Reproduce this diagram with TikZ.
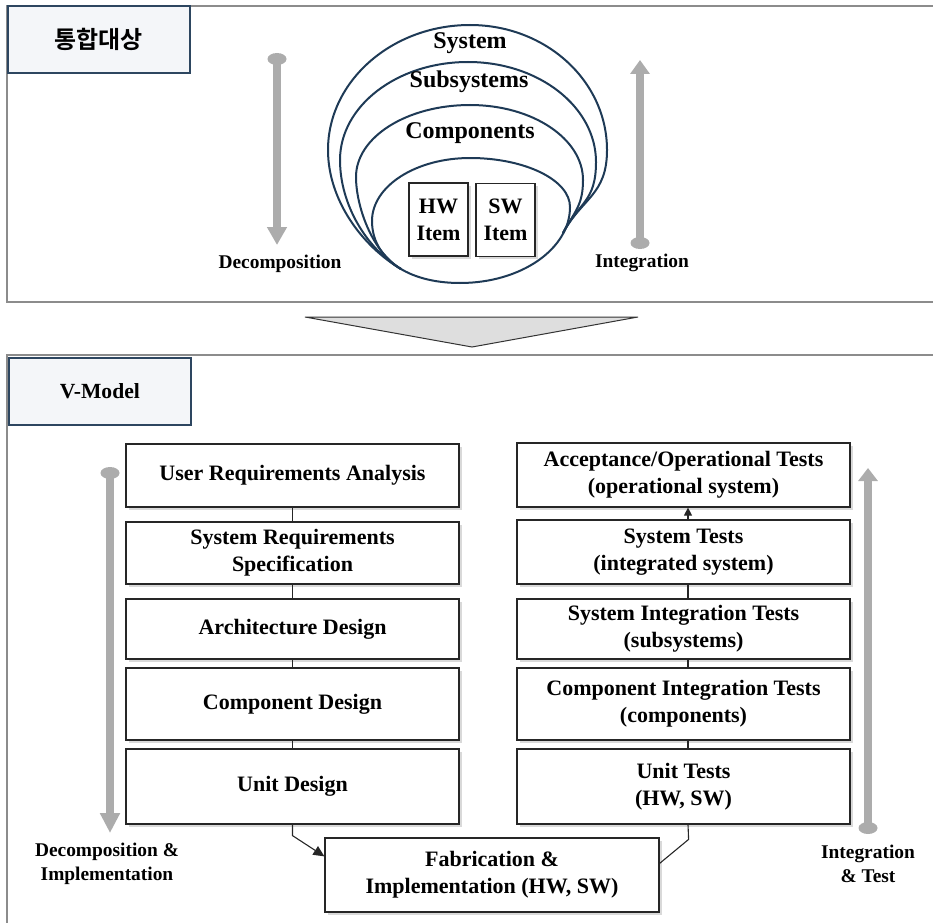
\documentclass[tikz,border=0pt]{standalone}
\usepackage{fontspec}
\setmainfont{Liberation Serif}
\newfontfamily\krfont{Noto Sans CJK KR}[BoldFont={Noto Sans CJK KR Bold}]
\usetikzlibrary{arrows.meta,shadows,calc}

\definecolor{framegray}{RGB}{140,140,140}
\definecolor{tabfill}{RGB}{244,246,249}
\definecolor{tabline}{RGB}{45,70,96}
\definecolor{ringblue}{RGB}{30,58,86}
\definecolor{flowgray}{RGB}{172,172,172}
\definecolor{chevfill}{RGB}{222,222,222}

\tikzset{
  panel/.style={draw=framegray, line width=2.8pt},
  tab/.style={draw=tabline, fill=tabfill, line width=1.8pt, minimum width=182pt,
    minimum height=67pt, inner sep=0pt, anchor=north west},
  procbox/.style={draw=black!85, fill=white, line width=1.2pt, align=center, inner sep=0pt,
    font=\bfseries\fontsize{22}{27}\selectfont,
    drop shadow={shadow xshift=2.5pt, shadow yshift=-2.5pt, opacity=0.3}},
  itembox/.style={procbox, minimum width=59pt, minimum height=73pt},
  ring/.style={draw=ringblue, line width=2pt},
  flow/.style={draw=flowgray, line width=8pt},
  ringlabel/.style={font=\bfseries\fontsize{24}{28}\selectfont},
  caption/.style={font=\bfseries\fontsize{19.4}{24}\selectfont, align=center},
  link/.style={draw=black!85, line width=1.1pt},
}

\begin{document}
\begin{tikzpicture}[x=1pt, y=-1pt]
\useasboundingbox (0,0) rectangle (933,923);

% ---------- upper panel: integration targets ----------
\draw[panel] (933,6) -- (7,6) -- (7,302) -- (933,302);
\node[tab] (tabA) at (7,5) {\krfont\bfseries\fontsize{24}{28}\selectfont 통합대상};

% nested system / subsystem / component rings
\draw[ring] (460,283) .. controls (407,283) and (372,258) .. (372,221)
  .. controls (372,186) and (416,158) .. (470,158)
  .. controls (525,158) and (570,180) .. (570,207)
  .. controls (570,249) and (521,283) .. (460,283) -- cycle;
\draw[ring] (401,269) .. controls (371,251) and (356,205) .. (356,177)
  .. controls (356,137) and (407,105) .. (470,105)
  .. controls (533,105) and (583,139) .. (583,180)
  .. controls (583,205) and (575,211) .. (563,233);
\draw[ring] (401,269) .. controls (367,249) and (340,205) .. (340,160)
  .. controls (340,106) and (397,62) .. (468,62)
  .. controls (539,62) and (596,107) .. (596,162)
  .. controls (596,202) and (579,202) .. (563,233);
\draw[ring] (401,269) .. controls (362,246) and (328,200) .. (328,150)
  .. controls (328,81) and (392,25) .. (470,25)
  .. controls (546,25) and (607,81) .. (607,150)
  .. controls (607,195) and (582,198) .. (563,233);

\node[ringlabel] (sys) at (470,43) {System};
\node[ringlabel] (subsys) at (469,82) {Subsystems};
\node[ringlabel] (comps) at (470,133) {Components};
\node[itembox] (hw) at (438.5,219.5) {HW\\Item};
\node[itembox] (sw) at (505.5,220) {SW\\Item};

% decomposition / integration flow arrows
\coordinate (decTop) at (277,59);
\coordinate (decBot) at (277,245);
\draw[flow, -{Triangle[width=19pt,length=18pt]}] (decTop) -- (decBot);
\fill[flowgray] (decTop) ellipse [x radius=9.5pt, y radius=6pt];
\node[caption] (decLbl) at (280,264) {Decomposition};

\coordinate (intBot) at (640,243);
\coordinate (intTop) at (640,60);
\draw[flow, -{Triangle[width=19pt,length=14pt]}] (intBot) -- (intTop);
\fill[flowgray] (intBot) ellipse [x radius=9.5pt, y radius=6pt];
\node[caption] (intLbl) at (642,263) {Integration};

% transition chevron
\draw[draw=black!80, fill=chevfill, line width=1pt] (305,317) -- (638,317) -- (472,347) -- cycle;

% ---------- lower panel: V-model ----------
\draw[panel] (933,355) -- (7,355) -- (7,923);
\node[tab, font=\bfseries\fontsize{21.6}{26}\selectfont] (tabB) at (8,357) {V-Model};

% left leg
\node[procbox, minimum width=333pt, minimum height=63pt] (ura) at (292.5,475.5) {User Requirements Analysis};
\node[procbox, minimum width=333pt, minimum height=62pt] (srs) at (292.5,553) {System Requirements\\Specification};
\node[procbox, minimum width=333pt, minimum height=60pt] (ad) at (292.5,629) {Architecture Design};
\node[procbox, minimum width=333pt, minimum height=72pt] (cd) at (292.5,704) {Component Design};
\node[procbox, minimum width=333pt, minimum height=75pt] (ud) at (292.5,786.5) {Unit Design};

% right leg
\node[procbox, minimum width=333pt, minimum height=64pt] (acc) at (683.5,475) {Acceptance/Operational Tests\\(operational system)};
\node[procbox, minimum width=333pt, minimum height=64pt] (st) at (683.5,552) {System Tests\\(integrated system)};
\node[procbox, minimum width=333pt, minimum height=60pt] (sit) at (683.5,629) {System Integration Tests\\(subsystems)};
\node[procbox, minimum width=333pt, minimum height=72pt] (cit) at (683.5,704) {Component Integration Tests\\(components)};
\node[procbox, minimum width=333pt, minimum height=75pt] (ut) at (683.5,786.5) {Unit Tests\\(HW, SW)};

% bottom of the V
\node[procbox, minimum width=334pt, minimum height=74pt] (fab) at (492,875) {Fabrication \&\\Implementation (HW, SW)};

% connectors, left leg
\draw[link] (ura.south) -- (srs.north);
\draw[link] (srs.south) -- (ad.north);
\draw[link] (ad.south) -- (cd.north);
\draw[link] (cd.south) -- (ud.north);
\draw[link, -{Triangle[width=10pt,length=11pt]}] (ud.south) -- ++(0,11) -- ([yshift=-19pt]fab.north west);

% connectors, right leg
\draw[link] ([yshift=-26pt]fab.north east) -- ++(29,-24) -- ([xshift=4.5pt]ut.south);
\draw[link] ([xshift=4.5pt]ut.north) -- ([xshift=4.5pt]cit.south);
\draw[link] ([xshift=4.5pt]cit.north) -- ([xshift=4.5pt]sit.south);
\draw[link] ([xshift=4.5pt]sit.north) -- ([xshift=4.5pt]st.south);
\draw[link, -{Triangle[width=8pt,length=8pt]}] ([xshift=4.5pt]st.north) -- ([xshift=4.5pt]acc.south);

% side flow arrows
\coordinate (vdTop) at (110,473);
\coordinate (vdBot) at (110,833);
\draw[flow, -{Triangle[width=19pt,length=20pt]}] (vdTop) -- (vdBot);
\fill[flowgray] (vdTop) ellipse [x radius=9.5pt, y radius=6pt];
\node[caption] (vdLbl) at (107,864) {Decomposition \&\\Implementation};

\coordinate (viBot) at (868,828);
\coordinate (viTop) at (868,468);
\draw[flow, -{Triangle[width=19pt,length=13pt]}] (viBot) -- (viTop);
\fill[flowgray] (viBot) ellipse [x radius=9.5pt, y radius=6pt];
\node[caption] (viLbl) at (868,864) {Integration\\\& Test};
\end{tikzpicture}
\end{document}
